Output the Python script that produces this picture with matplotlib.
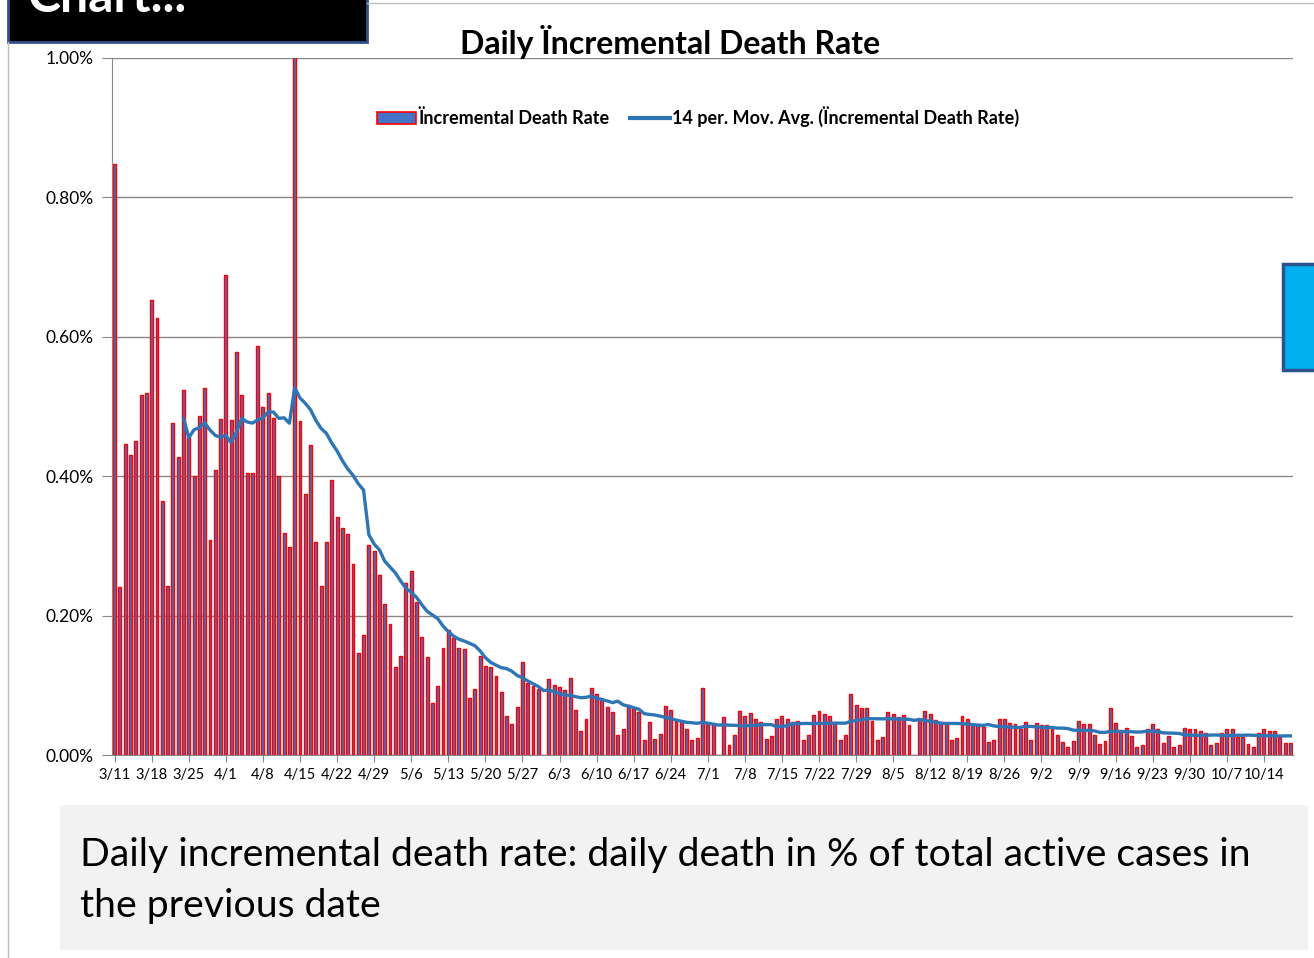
import matplotlib
matplotlib.use("Agg")
import matplotlib.pyplot as plt
from matplotlib.patches import Rectangle, Patch
from matplotlib.lines import Line2D
import numpy as np
import pandas as pd

plt.rcParams['font.family'] = ['Lato', 'DejaVu Sans']

# daily incremental death rate, in %, starting 3/11 (blank days drawn as 0)
rate = [
    0.848, 0.241, 0.446, 0.430, 0.451, 0.517, 0.519, 0.653, 0.627, 0.364,
    0.242, 0.476, 0.428, 0.524, 0.456, 0.401, 0.487, 0.526, 0.308, 0.409,
    0.482, 0.689, 0.481, 0.578, 0.517, 0.404, 0.405, 0.587, 0.500, 0.519,
    0.483, 0.400, 0.319, 0.299, 1.200, 0.479, 0.375, 0.445, 0.305, 0.242,
    0.305, 0.394, 0.342, 0.325, 0.317, 0.274, 0.147, 0.172, 0.302, 0.292,
    0.258, 0.217, 0.188, 0.126, 0.142, 0.247, 0.264, 0.220, 0.170, 0.141,
    0.074, 0.099, 0.153, 0.179, 0.168, 0.154, 0.152, 0.082, 0.094, 0.142,
    0.127, 0.126, 0.114, 0.090, 0.056, 0.045, 0.069, 0.133, 0.103, 0.099,
    0.095, 0.000, 0.109, 0.100, 0.097, 0.093, 0.110, 0.064, 0.034, 0.052,
    0.096, 0.087, 0.080, 0.069, 0.061, 0.029, 0.037, 0.072, 0.066, 0.062,
    0.021, 0.048, 0.023, 0.030, 0.070, 0.064, 0.049, 0.047, 0.038, 0.021,
    0.025, 0.096, 0.045, 0.044, 0.000, 0.055, 0.015, 0.028, 0.063, 0.056,
    0.060, 0.052, 0.047, 0.023, 0.027, 0.052, 0.056, 0.051, 0.048, 0.049,
    0.022, 0.028, 0.058, 0.063, 0.059, 0.056, 0.047, 0.022, 0.029, 0.088,
    0.072, 0.068, 0.068, 0.049, 0.021, 0.026, 0.061, 0.059, 0.054, 0.057,
    0.043, 0.000, 0.050, 0.063, 0.059, 0.050, 0.047, 0.044, 0.022, 0.025,
    0.056, 0.051, 0.044, 0.044, 0.040, 0.018, 0.021, 0.052, 0.052, 0.046,
    0.044, 0.038, 0.047, 0.021, 0.046, 0.043, 0.043, 0.040, 0.029, 0.018,
    0.012, 0.020, 0.049, 0.044, 0.044, 0.029, 0.016, 0.020, 0.067, 0.046,
    0.036, 0.039, 0.027, 0.012, 0.015, 0.038, 0.044, 0.038, 0.017, 0.027,
    0.012, 0.015, 0.039, 0.038, 0.037, 0.035, 0.031, 0.014, 0.017, 0.031,
    0.037, 0.038, 0.026, 0.026, 0.016, 0.012, 0.032, 0.037, 0.034, 0.035,
    0.026, 0.017, 0.017,
]
dates = pd.date_range("2020-03-11", periods=len(rate), freq="D")
date_labels = [f"{d.month}/{d.day}" for d in dates]
y_ticks = [0.0, 0.2, 0.4, 0.6, 0.8, 1.0]

title = "Daily Ïncremental Death Rate"
bar_label = "Ïncremental Death Rate"
ma_label = "14 per. Mov. Avg. (Ïncremental Death Rate)"
note_lines = ["Daily incremental death rate: daily death in % of total active cases in",
              "the previous date"]

W, H = 1314, 958


def fx(px):
    return px / W


def fy(py):
    return 1 - py / H


fig = plt.figure(figsize=(W / 100, H / 100), dpi=100)
fig.patch.set_facecolor("white")

# slide frame lines
fig.add_artist(Line2D([fx(8), fx(8)], [fy(42), 0], color="#BFBFBF", lw=1))
fig.add_artist(Line2D([fx(367), 1], [fy(3), fy(3)], color="#BFBFBF", lw=1))

# chart
ax = fig.add_axes([fx(112), fy(755), fx(1293) - fx(112), fy(58) - fy(755)])
x = np.arange(len(rate))
ax.bar(x, rate, width=0.55, color="#4472C4", edgecolor="#FF0000", linewidth=1.0, zorder=2)
ma = pd.Series(rate).rolling(14).mean()
ax.plot(x, ma, color="#2E75B6", lw=2.4, zorder=3)

ax.set_xlim(-0.5, len(rate) - 0.5)
ax.set_ylim(0, 1.0)
ax.set_yticks(y_ticks)
ax.set_yticklabels([f"{v:.2f}%" for v in y_ticks], fontsize=12.5)
ax.set_xticks(x[::7])
ax.set_xticklabels(date_labels[::7], fontsize=10.5)
ax.yaxis.grid(True, color="#888888", lw=1)
ax.set_axisbelow(True)
for s in ["top", "right"]:
    ax.spines[s].set_visible(False)
for s in ["left", "bottom"]:
    ax.spines[s].set_color("#888888")
ax.tick_params(axis="y", length=7, color="#888888", pad=6)
ax.tick_params(axis="x", length=5, color="#888888", pad=4)

# title and legend
fig.text(fx(670), fy(42), title, ha="center", va="center", fontsize=23, fontweight="bold")
handles = [Patch(facecolor="#4472C4", edgecolor="#FF0000", lw=1.2, label=bar_label),
           Line2D([], [], color="#2E75B6", lw=3, label=ma_label)]
fig.legend(handles=handles, loc="center", bbox_to_anchor=(fx(698), fy(117)), ncol=2,
           frameon=False, prop={"weight": "bold", "size": 13}, handlelength=2.2,
           handletextpad=0.15, columnspacing=1.1)

# black header box with cut-off text
fig.add_artist(Rectangle((fx(8), fy(42)), fx(367) - fx(8), fy(-10) - fy(42),
                         transform=fig.transFigure, facecolor="black",
                         edgecolor="#2F528F", lw=2))
fig.text(fx(27), fy(12), "Chart...", color="white", fontsize=36, fontweight="bold",
         ha="left", va="baseline")

# blue box on the right edge
fig.add_artist(Rectangle((fx(1283), fy(370)), fx(1320) - fx(1283), fy(264) - fy(370),
                         transform=fig.transFigure, facecolor="#00B0F0",
                         edgecolor="#2F528F", lw=2.5))

# note box at the bottom
fig.add_artist(Rectangle((fx(60), fy(950)), fx(1308) - fx(60), fy(805) - fy(950),
                         transform=fig.transFigure, facecolor="#F2F2F2", edgecolor="none"))
fig.text(fx(80), fy(855), note_lines[0], fontsize=28.3, ha="left", va="center")
fig.text(fx(80), fy(906), note_lines[1], fontsize=28.3, ha="left", va="center")

fig.savefig("out.png", dpi=100)
